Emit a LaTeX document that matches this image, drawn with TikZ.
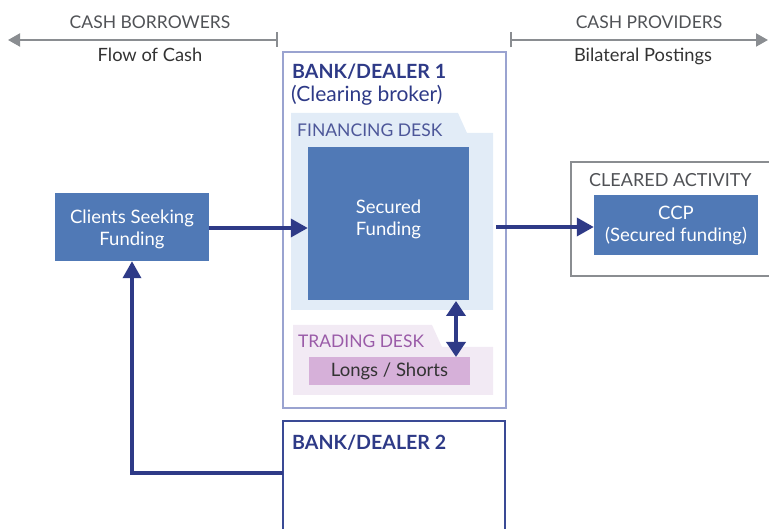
\documentclass[tikz,border=0pt]{standalone}
\usepackage{fontspec}
\setmainfont{Lato}
\usetikzlibrary{arrows.meta}
\definecolor{navy}{HTML}{2E3A87}
\definecolor{boxblue}{HTML}{5079B6}
\definecolor{bankone}{HTML}{9AA3D0}
\definecolor{banktwo}{HTML}{3A4A95}
\definecolor{finfill}{HTML}{E2ECF7}
\definecolor{tradefill}{HTML}{F2EAF4}
\definecolor{longfill}{HTML}{D6B0D9}
\definecolor{tradetext}{HTML}{9A5BA8}
\definecolor{greyline}{HTML}{8A8D91}
\definecolor{greytext}{HTML}{505256}
\tikzset{
  bluebox/.style={fill=boxblue, draw=none, text=white, align=center, font=\fontsize{18.5}{22}\selectfont, inner sep=0pt},
  navyarrow/.style={draw=navy, line width=3.6pt, -{Triangle[length=17pt,width=18pt]}},
  dblarrow/.style={draw=navy, line width=3.6pt, {Triangle[length=15pt,width=19pt]}-{Triangle[length=15pt,width=19pt]}},
  greyarrow/.style={draw=greyline, line width=2pt, {Bar[width=15pt,line width=2pt]}-{Triangle[length=12pt,width=13pt]}},
  toplabel/.style={text=greytext, font=\fontsize{17.5}{20}\selectfont, inner sep=0pt},
  sublabel/.style={text=black!80, font=\fontsize{18.3}{20}\selectfont, inner sep=0pt},
  banktitle/.style={text=navy, font=\bfseries\fontsize{19.6}{22}\selectfont, inner sep=0pt, anchor=west},
}
\begin{document}
\begin{tikzpicture}[x=1pt,y=-1pt]
\useasboundingbox (0,0) rectangle (769,529);
\clip (0,0) rectangle (769,529);
% top arrows
\coordinate (tickL) at (278,40);
\coordinate (endL) at (8,40);
\coordinate (tickR) at (510,40);
\coordinate (endR) at (768,40);
\draw[greyarrow] (tickL) -- (endL);
\draw[greyarrow] (tickR) -- (endR);
\node[toplabel] (cb) at (150,22) {CASH BORROWERS};
\node[sublabel] (fc) at (150,55) {Flow of Cash};
\node[toplabel] (cp) at (649,22) {CASH PROVIDERS};
\node[sublabel] (bp) at (643,56) {Bilateral Postings};
% bank dealer 1
\node[draw=bankone, line width=1.3pt, minimum width=223pt, minimum height=356pt, inner sep=0pt] (bank1) at (394.5,230) {};
\node[banktitle] (b1t) at (292,72) {BANK/DEALER 1};
\node[text=navy, font=\fontsize{21}{24}\selectfont, inner sep=0pt, anchor=west] (b1s) at (291,95) {(Clearing broker)};
% financing desk
\fill[finfill] (291,113) -- (458,113) -- (467,133) -- (493,133) -- (493,310) -- (291,310) -- cycle;
\node[text=navy!85, font=\fontsize{17.5}{20}\selectfont, inner sep=0pt, anchor=west] (fd) at (297,130) {FINANCING DESK};
\node[bluebox, minimum width=161pt, minimum height=153pt] (secured) at (388.5,223.5) {};
\node[bluebox, fill=none] (securedtext) at (388.5,219) {Secured\\Funding};
% trading desk
\fill[tradefill] (293,325) -- (432,325) -- (442,347) -- (493,347) -- (493,395) -- (293,395) -- cycle;
\node[text=tradetext, font=\fontsize{17.4}{20}\selectfont, inner sep=0pt, anchor=west] (td) at (298,341) {TRADING DESK};
\node[fill=longfill, text=black!80, font=\fontsize{18.5}{22}\selectfont, minimum width=161pt, minimum height=28pt, inner sep=0pt] (longs) at (389.5,371) {Longs / Shorts};
% bank dealer 2
\node[draw=banktwo, line width=1.6pt, fill=white, minimum width=222pt, minimum height=130pt, inner sep=0pt] (bank2) at (394,486) {};
\node[banktitle] (b2t) at (292,443) {BANK/DEALER 2};
% clients
\node[bluebox, minimum width=154pt, minimum height=68pt] (clients) at (132,227) {};
\node[bluebox, fill=none] (clientstext) at (132,229) {Clients Seeking\\Funding};
% cleared activity
\node[draw=greyline, line width=1.3pt, minimum width=206pt, minimum height=114pt, inner sep=0pt] (cleared) at (674,219) {};
\node[text=greytext, font=\fontsize{18}{20}\selectfont, inner sep=0pt, anchor=west] (ca) at (589,180) {CLEARED ACTIVITY};
\node[bluebox, minimum width=164pt, minimum height=60pt] (ccp) at (676,225) {CCP\\(Secured funding)};
% connectors
\coordinate (finR) at (496,227);
\coordinate (b2l) at (283,473);
\coordinate (dblTop) at (456,301);
\coordinate (dblBot) at (456,357);
\draw[navyarrow] ([yshift=-1pt]clients.east) -- ([yshift=-1pt]clients.east -| secured.west);
\draw[navyarrow] (finR) -- (finR -| ccp.west);
\draw[dblarrow] (dblTop) -- (dblBot);
\draw[navyarrow] (b2l) -| (clients.south);
\end{tikzpicture}
\end{document}
